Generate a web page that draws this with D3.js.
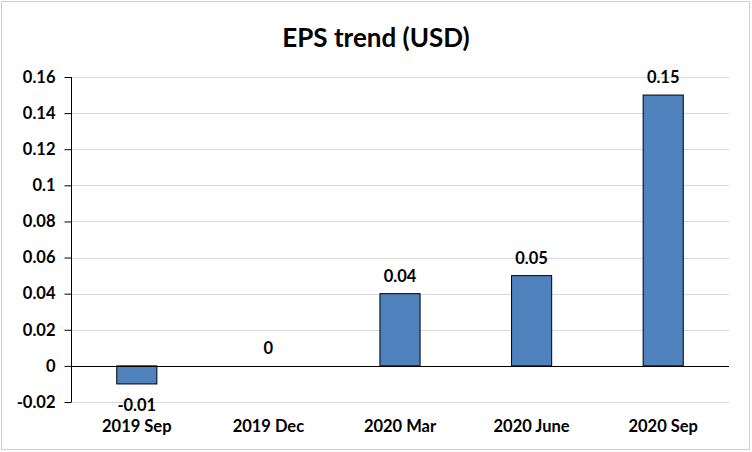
<!DOCTYPE html>
<html><head><meta charset="utf-8">
<script src="https://cdn.jsdelivr.net/npm/d3@7"></script>
<style>body{margin:0;background:#fff;}svg{display:block;font-family:Lato,"Open Sans",sans-serif;}</style>
</head><body>
<svg id="c" width="752" height="452"></svg>
<script>
const categories = ["2019 Sep","2019 Dec","2020 Mar","2020 June","2020 Sep"];
const values = [-0.01, 0, 0.04, 0.05, 0.15];
const labels = ["-0.01","0","0.04","0.05","0.15"];
const yTicks = [-0.02,0,0.02,0.04,0.06,0.08,0.1,0.12,0.14,0.16];
const yTickLabels = ["-0.02","0","0.02","0.04","0.06","0.08","0.1","0.12","0.14","0.16"];

const svg = d3.select("#c");
svg.append("rect").attr("x",1.5).attr("y",1.5).attr("width",748).attr("height",448)
  .attr("fill","#fff").attr("stroke","#d0d0d0").attr("stroke-width",1);

const x = d3.scaleBand().domain(categories).range([71,729]).padding(0);
const y = d3.scaleLinear().domain([-0.02,0.16]).range([402,77]);

// gridlines
svg.append("g").selectAll("line").data(yTicks).join("line")
  .attr("x1",71).attr("x2",729)
  .attr("y1",d=>Math.round(y(d))+0.5).attr("y2",d=>Math.round(y(d))+0.5)
  .attr("stroke","#d9d9d9").attr("stroke-width",1);

// y axis
const yAxis = d3.axisLeft(y).tickValues(yTicks).tickFormat((d,i)=>yTickLabels[i]).tickSize(7).tickPadding(9);
const ga = svg.append("g").attr("transform","translate(71.5,0)").call(yAxis);
ga.select(".domain").attr("stroke","#000").attr("d","M0,"+y(-0.02)+"V"+y(0.16));
ga.selectAll(".tick line").attr("stroke","#000");
ga.selectAll(".tick text").attr("fill","#000").attr("font-size",16.5).attr("font-weight","bold")
  .attr("font-family","Lato,'Open Sans',sans-serif");

// bars
const bw = x.bandwidth()*0.305;
svg.append("g").selectAll("rect").data(values).join("rect")
  .attr("x",(d,i)=>x(categories[i])+x.bandwidth()/2-bw/2)
  .attr("width",bw)
  .attr("y",d=>y(Math.max(0,d)))
  .attr("height",d=>Math.abs(y(d)-y(0)))
  .attr("fill","#4F81BD").attr("stroke","#000").attr("stroke-width",1);

// zero line
svg.append("line").attr("x1",71).attr("x2",729).attr("y1",Math.round(y(0))+0.5).attr("y2",Math.round(y(0))+0.5)
  .attr("stroke","#000").attr("stroke-width",1.2);

// data labels
svg.append("g").selectAll("text").data(values).join("text")
  .attr("x",(d,i)=>x(categories[i])+x.bandwidth()/2)
  .attr("y",d=> d<0 ? y(d)+27 : y(d)-12)
  .attr("text-anchor","middle").attr("font-size",16.5).attr("font-weight","bold").attr("fill","#000")
  .text((d,i)=>labels[i]);

// category labels
svg.append("g").selectAll("text").data(categories).join("text")
  .attr("x",d=>x(d)+x.bandwidth()/2).attr("y",432)
  .attr("text-anchor","middle").attr("font-size",16.5).attr("font-weight","bold").attr("fill","#000")
  .text(d=>d);

// title
svg.append("text").attr("x",376).attr("y",47).attr("text-anchor","middle")
  .attr("font-size",26).attr("font-weight","bold").attr("fill","#000").text("EPS trend (USD)");
</script>
</body></html>
